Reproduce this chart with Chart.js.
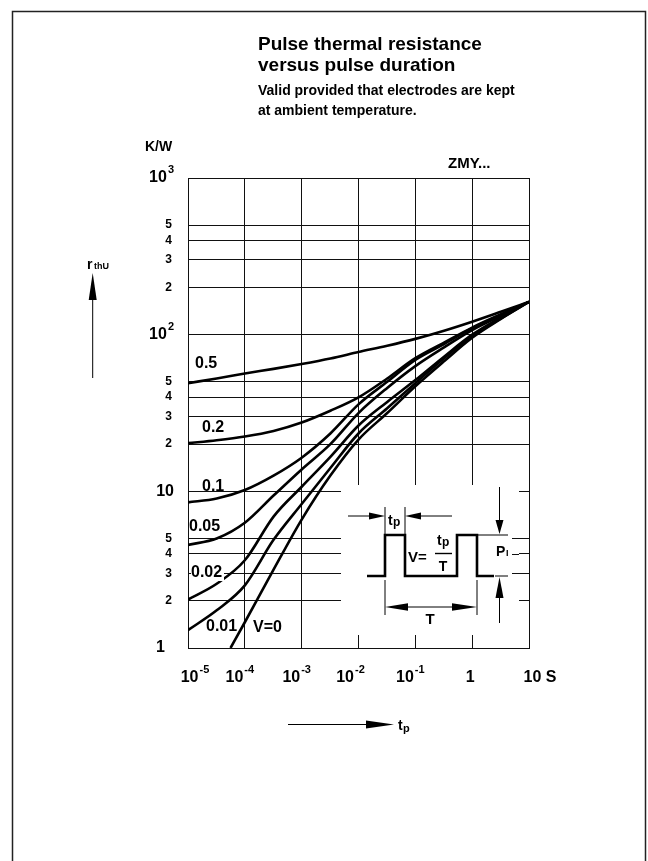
<!DOCTYPE html>
<html>
<head>
<meta charset="utf-8">
<title>Pulse thermal resistance versus pulse duration</title>
<script src="https://cdn.jsdelivr.net/npm/chart.js@4.4.1/dist/chart.umd.min.js"></script>
<style>
    html, body { margin: 0; padding: 0; background: #fff; }
    canvas { display: block; }
</style>
</head>
<body>
<canvas id="rthChart" width="648" height="861"></canvas>
<script>
// pulse duration (s)
const tp = [1e-5, 3.2e-5, 1e-4, 3.2e-4, 1e-3, 3.2e-3, 1e-2, 3.2e-2, 0.1, 0.32, 1, 3.2, 10];
const tpSingle = [5.6e-5, 1e-4, 3.2e-4, 1e-3, 3.2e-3, 1e-2, 3.2e-2, 0.1, 0.32, 1, 3.2, 10];

// r_thU in K/W for each duty cycle V
const rV05 = [49, 52.5, 56.5, 60.5, 65, 70.5, 77.5, 85, 94, 106, 121, 140, 162];
const rV02 = [20.3, 21.2, 22.4, 24.3, 27.5, 32.7, 39.8, 52.5, 70.8, 89, 111, 135, 162];
const rV01 = [8.5, 9.0, 10.2, 12.6, 16.4, 23.4, 35.9, 50, 69, 87, 110, 133, 162];
const rV005 = [4.55, 5.0, 6.3, 9.4, 13.8, 20, 31.6, 45.7, 63, 83, 107, 132, 162];
const rV002 = [2.04, 2.57, 3.63, 6.9, 10.7, 16.6, 26.3, 37.2, 51.3, 72.4, 100, 129, 162];
const rV001 = [1.3, 1.74, 2.51, 4.9, 8.3, 14.1, 23.4, 33.9, 49, 70.8, 97.7, 127, 162];
const rV0 = [1.0, 1.46, 3.16, 6.6, 12.6, 21.4, 31.6, 46.8, 67.6, 95.5, 126, 162];

// ticks
const xTicks = [1e-5, 1e-4, 1e-3, 1e-2, 1e-1, 1, 10];
const xTickBase = ['10', '10', '10', '10', '10', '1', '10 S'];
const xTickExp = ['-5', '-4', '-3', '-2', '-1', '', ''];
const yMajor = [1, 10, 100, 1000];
const yMajorBase = ['1', '10', '10', '10'];
const yMajorExp = ['', '', '2', '3'];
const yMinor = [2, 3, 4, 5, 20, 30, 40, 50, 200, 300, 400, 500];
const yMinorLabel = ['2', '3', '4', '5', '2', '3', '4', '5', '2', '3', '4', '5'];

const FONT = '"Liberation Sans", Arial, sans-serif';

function curve(xs, ys) {
    return {
        data: xs.map((x, i) => ({ x: x, y: ys[i] })),
        borderColor: '#000',
        borderWidth: 2.6,
        pointRadius: 0,
        fill: false,
        cubicInterpolationMode: 'monotone'
    };
}

function font(ctx, size) {
    ctx.font = 'bold ' + size + 'px ' + FONT;
}

function text(ctx, s, x, y, size, align) {
    font(ctx, size);
    ctx.textAlign = align || 'left';
    ctx.textBaseline = 'middle';
    ctx.fillText(s, x, y);
}

// base with superscript exponent
function power(ctx, base, exp, x, y, size, align) {
    const small = Math.round(size * 0.7);
    font(ctx, size);
    const wb = ctx.measureText(base).width;
    font(ctx, small);
    const we = exp ? ctx.measureText(exp).width + 1 : 0;
    let x0 = x;
    if (align === 'right') x0 = x - wb - we;
    if (align === 'center') x0 = x - (wb + we) / 2;
    text(ctx, base, x0, y, size, 'left');
    if (exp) text(ctx, exp, x0 + wb + 1, y - size * 0.5, small, 'left');
}

function line(ctx, pts, w) {
    ctx.lineWidth = w || 1;
    ctx.beginPath();
    ctx.moveTo(pts[0][0], pts[0][1]);
    for (let i = 1; i < pts.length; i++) ctx.lineTo(pts[i][0], pts[i][1]);
    ctx.stroke();
}

function arrowHead(ctx, tipX, tipY, baseX, baseY, half) {
    const dx = baseX - tipX, dy = baseY - tipY;
    const len = Math.sqrt(dx * dx + dy * dy);
    const nx = -dy / len * half, ny = dx / len * half;
    ctx.beginPath();
    ctx.moveTo(tipX, tipY);
    ctx.lineTo(baseX + nx, baseY + ny);
    ctx.lineTo(baseX - nx, baseY - ny);
    ctx.closePath();
    ctx.fill();
}

function drawInset(chart) {
    const ctx = chart.ctx;
    const y = chart.scales.y;
    ctx.save();
    ctx.fillStyle = '#fff';
    ctx.fillRect(341, 485, 178, 150);
    ctx.strokeStyle = '#111';
    [3, 4, 5].forEach(v => {
        const py = Math.round(y.getPixelForValue(v)) + 0.5;
        line(ctx, [[512, py], [519, py]], 1);
    });

    ctx.strokeStyle = '#000';
    ctx.fillStyle = '#000';
    // pulse train
    line(ctx, [[367, 576], [385, 576], [385, 535], [405, 535], [405, 576],
               [457, 576], [457, 535], [477, 535], [477, 576], [494, 576]], 2.6);

    // tp dimension
    line(ctx, [[385, 535], [385, 507]], 1);
    line(ctx, [[405, 535], [405, 507]], 1);
    line(ctx, [[348, 516], [372, 516]], 1);
    arrowHead(ctx, 385, 516, 369, 516, 3.5);
    line(ctx, [[418, 516], [452, 516]], 1);
    arrowHead(ctx, 405, 516, 421, 516, 3.5);
    text(ctx, 't', 388, 521, 14);
    text(ctx, 'p', 393, 523, 12);

    // T dimension
    line(ctx, [[385, 580], [385, 615]], 1);
    line(ctx, [[477, 580], [477, 615]], 1);
    line(ctx, [[405, 607], [455, 607]], 1);
    arrowHead(ctx, 385, 607, 408, 607, 3.8);
    arrowHead(ctx, 477, 607, 452, 607, 3.8);
    text(ctx, 'T', 430, 620, 15, 'center');

    // V = tp / T
    text(ctx, 'V=', 408, 558, 15);
    text(ctx, 't', 437, 541, 14);
    text(ctx, 'p', 442, 543, 12);
    line(ctx, [[435, 553.5], [452, 553.5]], 1.4);
    text(ctx, 'T', 443, 567, 14, 'center');

    // PI dimension
    line(ctx, [[478, 535], [508, 535]], 1);
    line(ctx, [[495, 576], [508, 576]], 1);
    line(ctx, [[499.5, 487], [499.5, 522]], 1);
    arrowHead(ctx, 499.5, 534, 499.5, 520, 4);
    line(ctx, [[499.5, 623], [499.5, 596]], 1);
    arrowHead(ctx, 499.5, 577, 499.5, 598, 4);
    text(ctx, 'P', 496, 552, 14);
    text(ctx, 'I', 506, 554, 9);
    ctx.restore();
}

function drawDecor(chart) {
    const ctx = chart.ctx;
    const xs = chart.scales.x, ys = chart.scales.y;
    ctx.save();
    ctx.fillStyle = '#000';
    ctx.strokeStyle = '#000';

    // page frame
    ctx.strokeStyle = '#222';
    line(ctx, [[12.5, 861], [12.5, 11.5], [645.5, 11.5], [645.5, 861]], 1.5);
    ctx.strokeStyle = '#000';

    // title block
    text(ctx, 'Pulse thermal resistance', 258, 45, 19);
    text(ctx, 'versus pulse duration', 258, 66, 19);
    text(ctx, 'Valid provided that electrodes are kept', 258, 91, 14);
    text(ctx, 'at ambient temperature.', 258, 111, 14);

    text(ctx, 'K/W', 145, 147, 14);
    text(ctx, 'ZMY...', 448, 164, 15);

    // y tick labels
    yMajor.forEach((v, i) => {
        const py = ys.getPixelForValue(v);
        const right = yMajorBase[i] === '1' ? 165 : 174;
        power(ctx, yMajorBase[i], yMajorExp[i], right, py, 16, 'right');
    });
    yMinor.forEach((v, i) => {
        text(ctx, yMinorLabel[i], 168.5, ys.getPixelForValue(v), 12, 'center');
    });

    // x tick labels
    const xShift = [7, -5, -5, -8, -5, -2, 11];
    xTicks.forEach((v, i) => {
        power(ctx, xTickBase[i], xTickExp[i], xs.getPixelForValue(v) + xShift[i], 678, 16, 'center');
    });

    // curve labels
    text(ctx, '0.5', 195, 364, 16);
    text(ctx, '0.2', 202, 428, 16);
    text(ctx, '0.1', 202, 487, 16);
    text(ctx, '0.05', 189, 527, 16);
    ctx.fillStyle = '#fff';
    ctx.fillRect(191, 565, 33, 16);
    ctx.fillStyle = '#000';
    text(ctx, '0.02', 191, 573, 16);
    text(ctx, '0.01', 206, 627, 16);
    text(ctx, 'V=0', 253, 628, 16);

    // y axis name with arrow
    text(ctx, 'r', 87, 265, 14);
    text(ctx, 'thU', 94, 267, 9);
    line(ctx, [[92.7, 378], [92.7, 298]], 1);
    arrowHead(ctx, 92.7, 273, 92.7, 300, 4);

    // x axis name with arrow
    line(ctx, [[288, 724.5], [370, 724.5]], 1);
    arrowHead(ctx, 394, 724.5, 366, 724.5, 4);
    text(ctx, 't', 398, 726, 14);
    text(ctx, 'p', 403, 729, 11);

    ctx.restore();
}

const decor = {
    id: 'decor',
    beforeDraw(chart) {
        chart.ctx.save();
        chart.ctx.fillStyle = '#fff';
        chart.ctx.fillRect(0, 0, chart.width, chart.height);
        chart.ctx.restore();
    },
    beforeDatasetsDraw(chart) {
        drawInset(chart);
    },
    afterDraw(chart) {
        drawDecor(chart);
    }
};

const gridStyle = { color: '#111', lineWidth: 1, drawTicks: false };

const rthCtx = document.getElementById('rthChart').getContext('2d');
new Chart(rthCtx, {
    type: 'line',
    data: {
        datasets: [
            curve(tp, rV05),
            curve(tp, rV02),
            curve(tp, rV01),
            curve(tp, rV005),
            curve(tp, rV002),
            curve(tp, rV001),
            curve(tpSingle, rV0)
        ]
    },
    options: {
        responsive: false,
        animation: false,
        events: [],
        layout: {
            padding: { left: 188, right: 119, top: 178, bottom: 213 }
        },
        plugins: {
            legend: { display: false },
            tooltip: { enabled: false }
        },
        scales: {
            x: {
                type: 'logarithmic',
                min: 1e-5,
                max: 10,
                ticks: { display: false },
                grid: gridStyle,
                border: { color: '#111', width: 1 },
                afterBuildTicks: s => { s.ticks = xTicks.map(v => ({ value: v })); },
                afterFit: s => { s.height = 0; }
            },
            y: {
                type: 'logarithmic',
                min: 1,
                max: 1000,
                ticks: { display: false },
                grid: gridStyle,
                border: { color: '#111', width: 1 },
                afterBuildTicks: s => {
                    s.ticks = yMajor.concat(yMinor).sort((a, b) => a - b).map(v => ({ value: v }));
                },
                afterFit: s => { s.width = 0; }
            }
        }
    },
    plugins: [decor]
});
</script>
</body>
</html>
